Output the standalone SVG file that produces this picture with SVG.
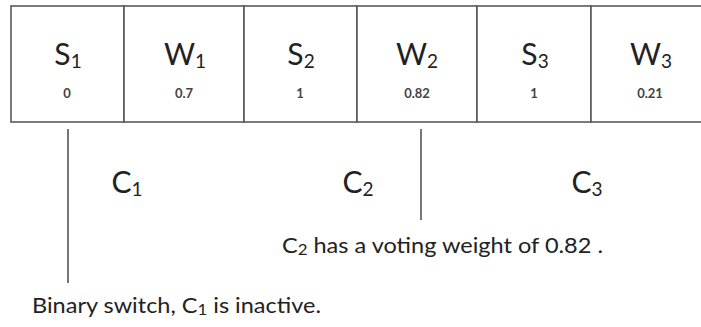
<svg xmlns="http://www.w3.org/2000/svg" width="701" height="327" viewBox="0 0 701 327">
<style>
.cell{fill:#fff;stroke:#5a5a5a;stroke-width:1.6}
.big{font-family:Lato,"Liberation Sans",sans-serif;font-size:30px;fill:#222;text-anchor:middle}
.sub{font-size:19px}
.val{font-family:Lato,"Liberation Sans",sans-serif;font-size:13px;font-weight:bold;fill:#444;text-anchor:middle}
.note{font-family:Lato,"Liberation Sans",sans-serif;font-size:21px;fill:#222}
.note .sub{font-size:15px}
.conn{stroke:#4a4a4a;stroke-width:1.5;fill:none}
</style>
<rect width="701" height="327" fill="#fff"/>
<g id="cell-S1"><rect class="cell" x="11" y="6" width="113" height="116"/><text class="big" x="68" y="65">S<tspan class="sub" dy="3">1</tspan></text><text class="val" x="67" y="98">0</text></g>
<g id="cell-W1"><rect class="cell" x="124" y="6" width="120" height="116"/><text class="big" x="185" y="65">W<tspan class="sub" dy="3">1</tspan></text><text class="val" x="184" y="98">0.7</text></g>
<g id="cell-S2"><rect class="cell" x="244" y="6" width="113" height="116"/><text class="big" x="301" y="65">S<tspan class="sub" dy="3">2</tspan></text><text class="val" x="300" y="98">1</text></g>
<g id="cell-W2"><rect class="cell" x="357" y="6" width="120" height="116"/><text class="big" x="417" y="65">W<tspan class="sub" dy="3">2</tspan></text><text class="val" x="417" y="98">0.82</text></g>
<g id="cell-S3"><rect class="cell" x="477" y="6" width="114" height="116"/><text class="big" x="535" y="65">S<tspan class="sub" dy="3">3</tspan></text><text class="val" x="534" y="98">1</text></g>
<g id="cell-W3"><rect class="cell" x="591" y="6" width="118" height="116"/><text class="big" x="651" y="65">W<tspan class="sub" dy="3">3</tspan></text><text class="val" x="650" y="98">0.21</text></g>
<g id="connectors">
<line class="conn" x1="68" y1="129" x2="68" y2="283"/>
<line class="conn" x1="421" y1="129" x2="421" y2="220"/>
</g>
<g id="label-C1"><text class="big" x="127" y="193">C<tspan class="sub" dy="3">1</tspan></text></g>
<g id="label-C2"><text class="big" x="358" y="193">C<tspan class="sub" dy="3">2</tspan></text></g>
<g id="label-C3"><text class="big" x="587" y="193">C<tspan class="sub" dy="3">3</tspan></text></g>
<g id="note-C2"><text class="note" x="282" y="253" textLength="321" lengthAdjust="spacingAndGlyphs">C<tspan class="sub" dy="2">2</tspan><tspan dy="-2"> has a voting weight of 0.82 .</tspan></text></g>
<g id="note-C1"><text class="note" x="32" y="313" textLength="289" lengthAdjust="spacingAndGlyphs">Binary switch, C<tspan class="sub" dy="2">1</tspan><tspan dy="-2"> is inactive.</tspan></text></g>
</svg>
